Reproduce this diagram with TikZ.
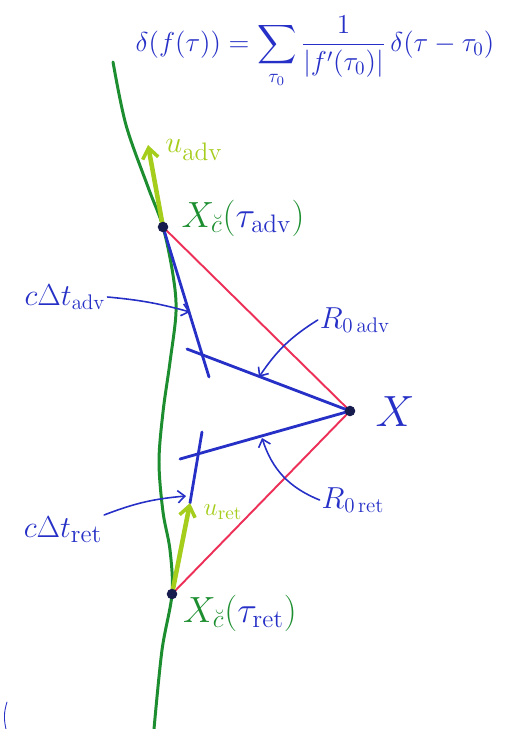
\documentclass[tikz,border=0pt]{standalone}
\usepackage{amsmath}
\usepackage{graphicx}
\usetikzlibrary{arrows.meta}

\definecolor{penblue}{RGB}{38,48,198}
\definecolor{pengreen}{RGB}{28,142,48}
\definecolor{penred}{RGB}{236,48,88}
\definecolor{penlime}{RGB}{165,205,28}
\definecolor{pendot}{RGB}{22,28,78}

\tikzset{
  worldline/.style={pengreen, line width=1.7pt},
  lightray/.style={penred, line width=1.1pt},
  con/.style={penblue, line width=1.6pt},
  vel/.style={penlime, line width=2.6pt, -{Straight Barb[length=6pt, width=9pt, line width=2pt]}},
  pointer/.style={penblue, line width=0.9pt, -{Straight Barb[length=4pt, width=7pt]}},
  dot/.style={circle, fill=pendot, inner sep=0pt, minimum size=6pt},
  lbl/.style={text=penblue, inner sep=1pt, font=\fontsize{17}{20}\selectfont},
}

\begin{document}
\begin{tikzpicture}[x=0.02cm, y=-0.02cm, line cap=round, line join=round]
  \useasboundingbox (0,0) rectangle (508,729);

  % Events: advanced point, observer, retarded point
  \coordinate (padv) at (163,227);
  \coordinate (pobs) at (350,411);
  \coordinate (pret) at (172,594);

  % Free ends of the short strokes
  \coordinate (uadvtip) at (148,145);
  \coordinate (urettip) at (190,503);
  \coordinate (cadvend) at (209,377);
  \coordinate (radvstart) at (187,349);
  \coordinate (rretend) at (180,459);
  \coordinate (cretstart) at (202,432);
  \coordinate (cadvmark) at (190,312);
  \coordinate (radvmark) at (259,377);
  \coordinate (rretmark) at (262,438);
  \coordinate (cretmark) at (186,496);

  % Green world line of the charge
  \draw[worldline] plot[smooth, tension=0.55] coordinates {(113,62) (126,125) (148,187) (padv) (173,275) (176,312) (170,362) (163,412) (159,462) (163,512) (170,550) (pret) (162,650) (154,729)};

  % Red light-like lines to X
  \draw[lightray] (padv) -- (pobs) -- (pret);

  % Blue construction lines
  \draw[con] (padv) -- (cadvend);
  \draw[con] (radvstart) -- (pobs);
  \draw[con] (pobs) -- (rretend);
  \draw[con] (cretstart) -- (urettip);

  % Four-velocities
  \draw[vel] (padv) -- (uadvtip);
  \draw[vel] (pret) -- (urettip);

  % Dots on top
  \node[dot] (xadv) at (padv) {};
  \node[dot] (xobs) at (pobs) {};
  \node[dot] (xret) at (pret) {};

  % Formula at the top
  \node[lbl, font=\fontsize{14.4}{17}\selectfont] (delta) at (315,52)
    {\scalebox{1.08}{$\displaystyle \delta(f(\tau)) = \sum_{\tau_0} \frac{1}{|f'(\tau_0)|}\,\delta(\tau-\tau_0)$}};

  % Labels of the points
  \node[lbl, text=pengreen, font=\fontsize{22}{26}\selectfont] (ladv) at (243,218)
    {$X_{\breve c}(\textcolor{penblue}{\tau_{\mathrm{adv}}})$};
  \node[lbl, text=pengreen, font=\fontsize{22}{26}\selectfont] (lret) at (240,613)
    {$X_{\breve c}(\textcolor{penblue}{\tau_{\mathrm{ret}}})$};
  \node[lbl, font=\fontsize{28}{32}\selectfont] (lobs) at (395,412) {$X$};

  % Velocity labels
  \node[lbl, text=penlime, font=\fontsize{19}{22}\selectfont] (luadv) at (194,150) {$u_{\mathrm{adv}}$};
  \node[lbl, text=penlime, font=\fontsize{15}{18}\selectfont] (luret) at (223,512) {$u_{\mathrm{ret}}$};

  % Labels with pointers
  \node[lbl] (lcadv) at (65,297) {$c\Delta t_{\mathrm{adv}}$};
  \draw[pointer] (lcadv.east) to[bend left=5] (cadvmark);

  \node[lbl] (lradv) at (355,320) {$R_{0\,\mathrm{adv}}$};
  \draw[pointer] (lradv.west) to[bend right=12] (radvmark);

  \node[lbl] (lrret) at (353,500) {$R_{0\,\mathrm{ret}}$};
  \draw[pointer] (lrret.west) to[bend left=25] (rretmark);

  \node[lbl, font=\fontsize{19}{22}\selectfont] (lcret) at (63,530) {$c\Delta t_{\mathrm{ret}}$};
  \draw[pointer] (lcret.north east) to[bend left=8] (cretmark);

  % Stray pen mark
  \draw[penblue, line width=0.5pt] (7,702) to[bend right=15] (6,729);
\end{tikzpicture}
\end{document}
